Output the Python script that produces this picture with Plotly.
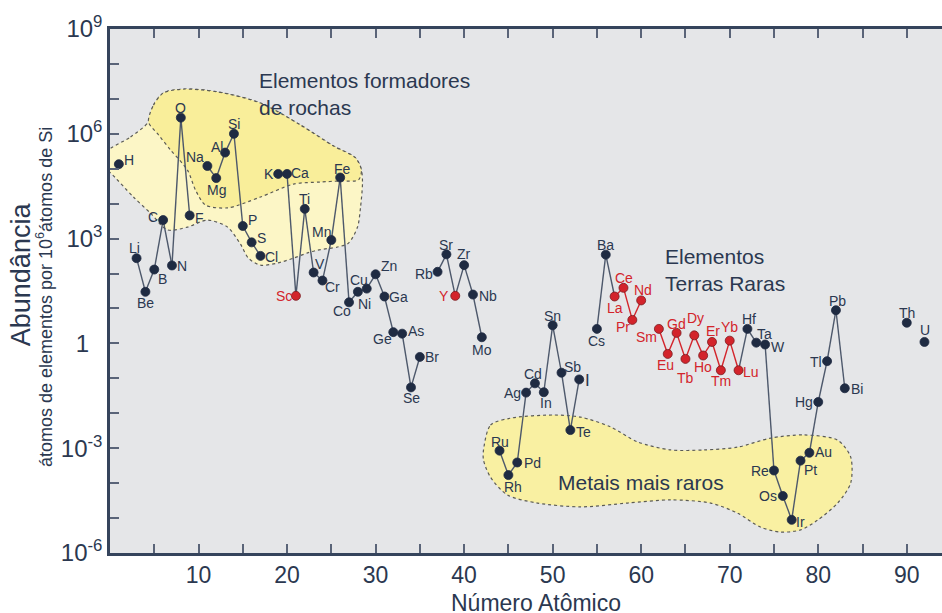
import math
import plotly.graph_objects as go

# Crustal abundance of the elements (atoms per 10^6 atoms of Si)
symbols = ["H", "Li", "Be", "B", "C", "N", "O", "F", "Na", "Mg", "Al", "Si", "P", "S", "Cl",
           "K", "Ca", "Sc", "Ti", "V", "Cr", "Mn", "Fe", "Co", "Ni", "Cu", "Zn", "Ga", "Ge",
           "As", "Se", "Br", "Rb", "Sr", "Y", "Zr", "Nb", "Mo", "Ru", "Rh", "Pd", "Ag", "Cd",
           "In", "Sn", "Sb", "Te", "I", "Cs", "Ba", "La", "Ce", "Pr", "Nd", "Sm", "Eu", "Gd",
           "Tb", "Dy", "Ho", "Er", "Tm", "Yb", "Lu", "Hf", "Ta", "W", "Re", "Os", "Ir", "Pt",
           "Au", "Hg", "Tl", "Pb", "Bi", "Th", "U"]
atomic_numbers = [1, 3, 4, 5, 6, 7, 8, 9, 11, 12, 13, 14, 15, 16, 17,
                  19, 20, 21, 22, 23, 24, 25, 26, 27, 28, 29, 30, 31, 32,
                  33, 34, 35, 37, 38, 39, 40, 41, 42, 44, 45, 46, 47, 48,
                  49, 50, 51, 52, 53, 55, 56, 57, 58, 59, 60, 62, 63, 64,
                  65, 66, 67, 68, 69, 70, 71, 72, 73, 74, 75, 76, 77, 78,
                  79, 80, 81, 82, 83, 90, 92]
abundance = [1.35e5, 275, 30, 130, 3.4e3, 170, 2.9e6, 4.6e3, 1.2e5, 5.4e4, 2.9e5, 1.0e6, 2.3e3, 780, 320,
             7.1e4, 7.1e4, 23, 7.1e3, 107, 63, 910, 5.6e4, 15, 30, 37, 95, 22, 2.1,
             1.9, 0.055, 0.41, 112, 355, 23, 174, 25, 1.5, 8.5e-4, 1.7e-4, 3.9e-4, 0.039, 0.072,
             0.040, 3.3, 0.145, 3.3e-3, 0.093, 2.6, 347, 22, 39, 4.7, 17, 2.6, 0.50, 2.0,
             0.36, 1.7, 0.45, 1.1, 0.17, 1.2, 0.17, 2.6, 1.05, 0.93, 2.3e-4, 4.3e-5, 8.9e-6, 4.4e-4,
             7.4e-4, 0.021, 0.31, 8.9, 0.052, 3.9, 1.1]

rare_earths = ["La", "Ce", "Pr", "Nd", "Sm", "Eu", "Gd", "Tb", "Dy", "Ho", "Er", "Tm", "Yb", "Lu"]
highlighted = rare_earths + ["Sc", "Y"]

# label offset from its dot, in pixels (right, down)
label_offset = {
    "H": (10, -4), "Li": (-2, -10), "Be": (0, 11), "B": (8, 9), "C": (-10, -3), "N": (10, 1),
    "O": (0, -10), "F": (10, 3), "Na": (-12, -9), "Mg": (0, 12), "Al": (-8, -6), "Si": (0, -10),
    "P": (10, -6), "S": (10, -4), "Cl": (11, 1), "K": (-9, 0), "Ca": (13, -1), "Sc": (-12, 0),
    "Ti": (0, -10), "V": (6, -9), "Cr": (10, 6), "Mn": (-10, -8), "Fe": (2, -9), "Co": (-7, 9),
    "Ni": (7, 12), "Cu": (-8, -9), "Zn": (13, -8), "Ga": (14, 0), "Ge": (-11, 7), "As": (14, -3),
    "Se": (0, 11), "Br": (12, 0), "Rb": (-14, 2), "Sr": (0, -9), "Y": (-11, 0), "Zr": (0, -11),
    "Nb": (15, 1), "Mo": (0, 13), "Ru": (0, -9), "Rh": (5, 12), "Pd": (15, 1), "Ag": (-14, 0),
    "Cd": (-2, -9), "In": (2, 11), "Sn": (0, -9), "Sb": (11, -6), "Te": (13, 2), "I": (8, 1),
    "Cs": (0, 12), "Ba": (0, -10), "La": (0, 11), "Ce": (1, -10), "Pr": (-9, 7), "Nd": (2, -10),
    "Sm": (-12, 8), "Eu": (-2, 11), "Gd": (0, -9), "Tb": (0, 19), "Dy": (1, -17), "Ho": (0, 11),
    "Er": (1, -11), "Tm": (0, 11), "Yb": (0, -14), "Lu": (12, 2), "Hf": (2, -10), "Ta": (8, -9),
    "W": (13, 2), "Re": (-14, 0), "Os": (-15, 0), "Ir": (9, 2), "Pt": (10, 9), "Au": (14, -1),
    "Hg": (-14, 0), "Tl": (-11, 1), "Pb": (2, -9), "Bi": (12, 1), "Th": (0, -10), "U": (1, -12),
}

# outlines of the shaded groups: (atomic number, log10 abundance)
rock_outer_outline = [(-0.5, 5.45), (2.32, 5.91), (4.35, 6.34), (4.91, 6.82), (6.04, 7.17), (8.30, 7.28),
                      (12.14, 7.20), (17.0, 6.88), (21.52, 6.25), (25.25, 5.65), (27.73, 5.31),
                      (28.40, 4.96), (28.52, 4.59), (28.30, 3.90), (27.96, 3.33), (26.94, 2.87),
                      (25.70, 2.76), (23.44, 2.67), (22.31, 2.59), (20.73, 2.44), (18.92, 2.30),
                      (17.0, 2.24), (15.64, 2.44), (14.74, 2.84), (13.27, 3.33), (11.01, 3.53),
                      (8.75, 3.33), (6.49, 3.25), (4.57, 3.73), (2.65, 4.19), (0.06, 4.88), (-0.5, 4.98)]
rock_inner_outline = [(4.35, 6.34), (4.91, 6.82), (6.04, 7.17), (8.30, 7.28), (12.14, 7.20),
                      (17.0, 6.88), (21.52, 6.25), (25.25, 5.65), (27.73, 5.31), (28.40, 4.96),
                      (28.07, 4.68), (26.04, 4.65), (23.78, 4.62), (20.73, 4.56), (17.0, 4.19),
                      (13.27, 3.88), (10.79, 3.96), (9.66, 4.39), (8.75, 4.96), (6.83, 5.54),
                      (5.48, 5.97)]
rare_metals_outline = [(42.19, -3.05), (42.98, -2.34), (45.24, -2.14), (50.10, -2.05), (53.15, -2.11),
                       (56.54, -2.39), (59.59, -2.82), (63.32, -3.05), (67.05, -3.05), (70.89, -2.97),
                       (74.62, -2.71), (78.35, -2.62), (82.19, -2.77), (83.66, -3.25), (83.66, -4.00),
                       (82.19, -4.57), (79.92, -5.06), (78.0, -5.34), (75.74, -5.40), (73.48, -5.26),
                       (70.89, -4.86), (67.85, -4.57), (63.32, -4.48), (58.47, -4.57), (53.15, -4.68),
                       (48.29, -4.57), (44.90, -4.34), (42.98, -3.83), (42.19, -3.34)]

NAVY = "#1f2b42"
TEXT = "#2b3850"
RED = "#d3242b"
LINE = "#4d586b"
AXIS = "#35445c"
TICK = "#5a6478"
FONT = "Liberation Sans, Arial, sans-serif"

fig = go.Figure()


def region(outline, fill):
    xs = [p[0] for p in outline] + [outline[0][0]]
    ys = [10 ** p[1] for p in outline] + [10 ** outline[0][1]]
    fig.add_trace(go.Scatter(x=xs, y=ys, mode="lines", fill="toself", fillcolor=fill,
                             line=dict(color="#5b5b55", width=1.2, dash="dot", shape="spline",
                                       smoothing=0.8),
                             hoverinfo="skip", showlegend=False))


region(rock_outer_outline, "#fcf6c6")
region(rock_inner_outline, "#f9ee9a")
region(rare_metals_outline, "#f9f0a2")

# connecting lines between consecutive atomic numbers
gray_x, gray_y, red_x, red_y = [], [], [], []
for i in range(len(symbols) - 1):
    if atomic_numbers[i + 1] - atomic_numbers[i] == 1:
        if symbols[i] in rare_earths and symbols[i + 1] in rare_earths:
            tx, ty = red_x, red_y
        else:
            tx, ty = gray_x, gray_y
        tx += [atomic_numbers[i], atomic_numbers[i + 1], None]
        ty += [abundance[i], abundance[i + 1], None]

fig.add_trace(go.Scatter(x=gray_x, y=gray_y, mode="lines", line=dict(color=LINE, width=1.4),
                         hoverinfo="skip", showlegend=False))
fig.add_trace(go.Scatter(x=red_x, y=red_y, mode="lines", line=dict(color=RED, width=1.4),
                         hoverinfo="skip", showlegend=False))


def points(keep, color, edge):
    idx = [i for i, s in enumerate(symbols) if keep(s)]
    fig.add_trace(go.Scatter(
        x=[atomic_numbers[i] for i in idx],
        y=[abundance[i] for i in idx],
        text=[symbols[i] for i in idx],
        mode="markers",
        marker=dict(size=9, color=color, line=dict(color=edge, width=0.8)),
        hovertemplate="%{text}: %{y}<extra></extra>",
        showlegend=False))


points(lambda s: s not in highlighted, NAVY, NAVY)
points(lambda s: s in highlighted, RED, "#7a1a1e")

# element symbols next to their dots
for sym, z, val in zip(symbols, atomic_numbers, abundance):
    dx, dy = label_offset[sym]
    fig.add_annotation(x=z, y=math.log10(val), xref="x", yref="y", text=sym, showarrow=False,
                       xanchor="center", yanchor="middle", xshift=dx, yshift=-dy,
                       font=dict(family=FONT, size=17 if sym == "I" else 14,
                                 color=RED if sym in highlighted else TEXT))

major_decades = [-6, -3, 0, 3, 6, 9]
minor_decades = [k for k in range(-6, 10) if k not in major_decades]
y_tickvals = [10 ** k for k in major_decades]
y_ticktext = ["1\u00a0\u00a0" if k == 0 else f"10<sup>{k}</sup>" for k in major_decades]
x_tickvals = list(range(10, 95, 10))
x_minorvals = list(range(5, 95, 10))

fig.update_layout(
    width=942, height=613,
    margin=dict(l=110, r=0, t=29, b=60),
    paper_bgcolor="white",
    plot_bgcolor="#e5e6e8",
    font=dict(family=FONT, color=TEXT),
    showlegend=False,
    xaxis=dict(range=[0, 93.98], tickmode="array", tickvals=x_tickvals,
               ticktext=[str(v) for v in x_tickvals],
               ticks="inside", ticklen=9, tickwidth=1.5, tickcolor=TICK,
               minor=dict(tickmode="array", tickvals=x_minorvals, ticks="inside",
                          ticklen=9, tickwidth=1.5, tickcolor=TICK),
               showline=True, linecolor=AXIS, linewidth=2.5, mirror="allticks",
               showgrid=False, zeroline=False, tickfont=dict(size=23, color=TEXT)),
    yaxis=dict(type="log", range=[-6, 9], tickmode="array", tickvals=y_tickvals,
               ticktext=y_ticktext,
               ticks="inside", ticklen=9, tickwidth=1.5, tickcolor=TICK,
               minor=dict(tickmode="array", tickvals=[10 ** k for k in minor_decades],
                          ticks="inside", ticklen=9, tickwidth=1.5, tickcolor=TICK),
               showline=True, linecolor=AXIS, linewidth=2.5,
               showgrid=False, zeroline=False, tickfont=dict(size=24, color=TEXT)),
    yaxis2=dict(type="log", range=[-6, 9], overlaying="y", side="right", anchor="x",
                tickmode="array", tickvals=[10 ** k for k in range(-6, 10)],
                ticks="inside", ticklen=4, tickwidth=1.5, tickcolor=TICK,
                showticklabels=False, showline=False, showgrid=False, zeroline=False),
)

annotations = [
    dict(x=16.66, y=7.14, xref="x", yref="y", xanchor="left", yanchor="middle", align="left",
         text="Elementos formadores<br>de rochas", font=dict(size=21, color=TEXT)),
    dict(x=62.41, y=2.11, xref="x", yref="y", xanchor="left", yanchor="middle", align="left",
         text="Elementos<br>Terras Raras", font=dict(size=21, color=TEXT)),
    dict(x=50.43, y=-3.97, xref="x", yref="y", xanchor="left", yanchor="middle", align="left",
         text="Metais mais raros", font=dict(size=21, color=TEXT)),
    dict(x=-0.107, y=0.532, xref="paper", yref="paper", textangle=-90,
         xanchor="center", yanchor="middle",
         text="Abundância", font=dict(size=27, color=TEXT)),
    dict(x=-0.0793, y=0.4885, xref="paper", yref="paper", textangle=-90,
         xanchor="center", yanchor="middle",
         text="átomos de elementos por 10<sup>6</sup>átomos de Si", font=dict(size=18, color=TEXT)),
    dict(x=0.512, y=0, xref="paper", yref="paper", xanchor="center", yanchor="top", yshift=-36,
         borderpad=0, text="Número Atômico", font=dict(size=23, color=TEXT)),
]
for a in annotations:
    fig.add_annotation(showarrow=False, **a)

fig.write_html("out.html")
